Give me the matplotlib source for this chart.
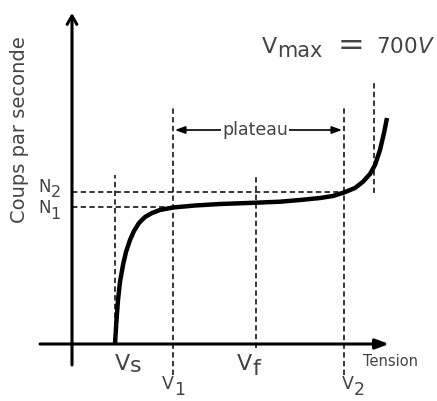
import matplotlib.pyplot as plt

plt.rcParams['mathtext.fontset'] = 'dejavusans'

# characteristic curve of a Geiger counter
tension = [43, 44.5, 46, 48, 51, 54, 58, 62, 67, 73, 80, 88, 101, 123, 148, 184,
           208, 228, 248, 261, 272, 283, 291, 298, 303, 308, 312, 315]
coups = [0, 24, 44, 62, 79, 92, 104, 113, 121, 127, 131, 134, 136.5, 138.5, 140, 141.3,
         142.3, 144, 146, 148, 151.5, 156, 162.3, 170, 179, 194, 211, 226]

# reference voltages and counts
v_s, v_1, v_f, v_2, v_max = 43, 101, 184, 272, 302
n_1, n_2 = 137, 152

grey = '#444444'
dash = (0, (3.5, 2.2))

fig = plt.figure(figsize=(4.37, 4.01), dpi=100)
ax = fig.add_axes([0, 0, 1, 1])
ax.set_xlim(-72, 365)
ax.set_ylim(-57, 344)
ax.axis('off')
renderer = fig.canvas.get_renderer()


def label(x, y, main, sub, size, sub_size, drop):
    # letter plus a lowered, almost full size index
    t = ax.text(x, y, main, fontsize=size, color=grey, ha='left', va='baseline')
    bb = t.get_window_extent(renderer)
    xs = ax.transData.inverted().transform((bb.x1, bb.y0))[0]
    ax.text(xs, y - drop, sub, fontsize=sub_size, color=grey, ha='left', va='baseline')
    return xs


# axes with arrows
ax.annotate('', xy=(317, 0), xytext=(-32, 0),
            arrowprops=dict(arrowstyle='-|>,head_length=0.8,head_width=0.3',
                            lw=2.2, color='black', shrinkA=0, shrinkB=0))
ax.annotate('', xy=(0, 331), xytext=(0, -21),
            arrowprops=dict(arrowstyle='->,head_length=0.6,head_width=0.35',
                            lw=2.2, color='black', shrinkA=0, shrinkB=0))

# dashed guides
ax.plot([v_s, v_s], [0, 169], color='black', lw=1.1, ls=dash)
ax.plot([v_1, v_1], [-31, 239], color='black', lw=1.1, ls=dash)
ax.plot([v_f, v_f], [-4, 169], color='black', lw=1.1, ls=dash)
ax.plot([v_2, v_2], [-31, 239], color='black', lw=1.1, ls=dash)
ax.plot([v_max, v_max], [151, 264], color='black', lw=1.1, ls=dash)
ax.plot([0, v_2], [n_2, n_2], color='black', lw=1.1, ls=dash)
ax.plot([0, v_1], [n_1, n_1], color='black', lw=1.1, ls=dash)

# the curve
ax.plot(tension, coups, color='black', lw=3.2, solid_capstyle='butt',
        solid_joinstyle='round')

# plateau arrow
ax.annotate('', xy=(v_1 + 2, 214), xytext=(v_2 - 2, 214),
            arrowprops=dict(arrowstyle='<|-|>,head_length=0.6,head_width=0.22',
                            lw=1.2, color='black', shrinkA=0, shrinkB=0))
ax.text(183, 214, 'plateau', fontsize=12.5, color=grey, ha='center', va='center',
        bbox=dict(facecolor='white', edgecolor='none', pad=0.5))

# labels
ax.text(-52, 214, 'Coups par seconde', fontsize=14, color=grey, rotation=90,
        ha='center', va='center')
label(-34, 152, 'N', '2', 12, 11.5, 5)
label(-34, 131, 'N', '1', 12, 11.5, 6)
label(43, -26, 'V', 's', 16, 16, 2)
label(165, -26, 'V', 'f', 16, 16, 5)
label(90, -45, 'V', '1', 12.5, 12.5, 6)
label(270, -45, 'V', '2', 12.5, 12.5, 6)
ax.text(291, -17, 'Tension', fontsize=10.5, color=grey, ha='left', va='center')

# V max = 700V
label(190, 291, 'V', 'max', 16, 15, 4)
ax.text(266, 289, '=', fontsize=23, color=grey, ha='left', va='baseline')
ax.text(304, 291, r'$700V$', fontsize=15.5, color=grey, ha='left', va='baseline')

fig.savefig('out.png', dpi=100)
